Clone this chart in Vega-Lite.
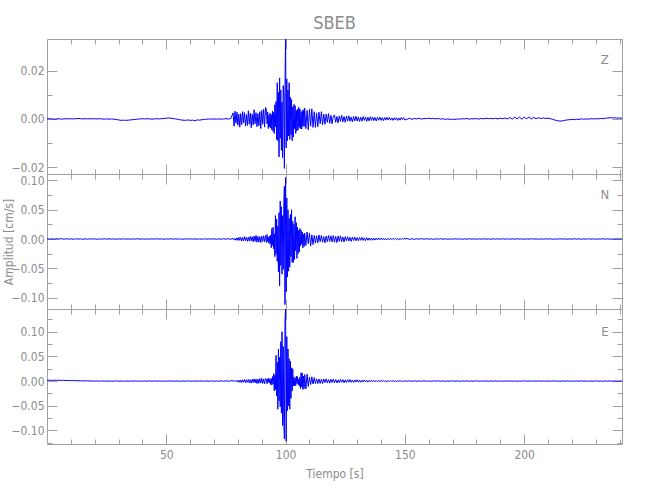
{
"$schema":"https://vega.github.io/schema/vega-lite/v6.json",
"background":"white",
"padding":{"left":2,"top":14,"right":5,"bottom":5},
"config":{
 "view":{"stroke":null},
 "axis":{"grid":false,"domainColor":"#a0a0a0","tickColor":"#a0a0a0","labelColor":"#8c8c8c","labelFont":"Liberation Sans Narrow, DejaVu Sans Condensed, sans-serif","labelFontSize":12,"titleFont":"Liberation Sans Narrow, DejaVu Sans Condensed, sans-serif","titleFontSize":12,"titleFontWeight":"normal","titleColor":"#8c8c8c","domainWidth":1,"tickWidth":1,"labelOverlap":false,"labelFlush":false}
},
"datasets":{"w":[
{"t":0,"z":0.0000,"n":0.0004,"e":0.0014},{"t":1,"z":0.0001,"n":-0.0003,"e":0.0018},{"t":2,"z":0.0000,"n":0.0005,"e":0.0013},{"t":3,"z":-0.0001,"n":-0.0004,"e":0.0019},{"t":4,"z":0.0000,"n":0.0006,"e":0.0015},{"t":5,"z":0.0001,"n":-0.0002,"e":0.0017},{"t":6,"z":-0.0001,"n":0.0007,"e":0.0012},{"t":7,"z":0.0000,"n":-0.0005,"e":0.0016},{"t":8,"z":0.0001,"n":0.0006,"e":0.0010},{"t":9,"z":0.0000,"n":-0.0004,"e":0.0013},
{"t":10,"z":0.0001,"n":0.0003,"e":0.0008},{"t":11,"z":0.0000,"n":-0.0005,"e":0.0011},{"t":12,"z":0.0001,"n":0.0004,"e":0.0006},{"t":13,"z":0.0002,"n":-0.0002,"e":0.0009},{"t":14,"z":0.0001,"n":0.0003,"e":0.0004},{"t":15,"z":0.0000,"n":-0.0004,"e":0.0007},{"t":16,"z":0.0001,"n":0.0002,"e":0.0002},{"t":17,"z":0.0000,"n":-0.0003,"e":0.0005},{"t":18,"z":0.0001,"n":0.0004,"e":0.0000},{"t":19,"z":0.0000,"n":-0.0002,"e":0.0004},
{"t":20,"z":0.0001,"n":0.0003,"e":-0.0002},{"t":21,"z":0.0000,"n":-0.0004,"e":0.0003},{"t":22,"z":0.0001,"n":0.0002,"e":-0.0003},{"t":23,"z":0.0000,"n":-0.0003,"e":0.0004},{"t":24,"z":-0.0001,"n":0.0004,"e":-0.0002},{"t":25,"z":0.0000,"n":-0.0002,"e":0.0003},{"t":26,"z":-0.0001,"n":0.0003,"e":-0.0004},{"t":27,"z":0.0000,"n":-0.0003,"e":0.0002},{"t":28,"z":-0.0001,"n":0.0002,"e":-0.0003},{"t":29,"z":-0.0002,"n":-0.0004,"e":0.0004},
{"t":30,"z":-0.0004,"n":0.0003,"e":-0.0002},{"t":31,"z":-0.0006,"n":-0.0002,"e":0.0003},{"t":32,"z":-0.0005,"n":0.0004,"e":-0.0004},{"t":33,"z":-0.0006,"n":-0.0003,"e":0.0002},{"t":34,"z":-0.0005,"n":0.0002,"e":-0.0003},{"t":35,"z":-0.0004,"n":-0.0003,"e":0.0003},{"t":36,"z":-0.0003,"n":0.0003,"e":-0.0002},{"t":37,"z":-0.0002,"n":-0.0002,"e":0.0004},{"t":38,"z":-0.0001,"n":0.0004,"e":-0.0003},{"t":39,"z":0.0000,"n":-0.0003,"e":0.0002},
{"t":40,"z":0.0001,"n":0.0002,"e":-0.0004},{"t":41,"z":0.0000,"n":-0.0004,"e":0.0003},{"t":42,"z":0.0001,"n":0.0003,"e":-0.0002},{"t":43,"z":0.0000,"n":-0.0002,"e":0.0003},{"t":44,"z":-0.0001,"n":0.0003,"e":-0.0003},{"t":45,"z":0.0000,"n":-0.0003,"e":0.0004},{"t":46,"z":0.0001,"n":0.0004,"e":-0.0002},{"t":47,"z":0.0000,"n":-0.0002,"e":0.0003},{"t":48,"z":0.0001,"n":0.0003,"e":-0.0004},{"t":49,"z":0.0002,"n":-0.0004,"e":0.0002},
{"t":50,"z":0.0003,"n":0.0002,"e":-0.0003},{"t":51,"z":0.0004,"n":-0.0003,"e":0.0004},{"t":52,"z":0.0003,"n":0.0004,"e":-0.0002},{"t":53,"z":0.0001,"n":-0.0002,"e":0.0003},{"t":54,"z":0.0000,"n":0.0003,"e":-0.0003},{"t":55,"z":-0.0002,"n":-0.0003,"e":0.0002},{"t":56,"z":-0.0004,"n":0.0002,"e":-0.0004},{"t":57,"z":-0.0005,"n":-0.0004,"e":0.0003},{"t":58,"z":-0.0006,"n":0.0003,"e":-0.0002},{"t":59,"z":-0.0004,"n":-0.0002,"e":0.0004},
{"t":60,"z":-0.0006,"n":0.0004,"e":-0.0003},{"t":61,"z":-0.0005,"n":-0.0003,"e":0.0002},{"t":62,"z":-0.0007,"n":0.0002,"e":-0.0003},{"t":63,"z":-0.0004,"n":-0.0003,"e":0.0004},{"t":64,"z":-0.0005,"n":0.0003,"e":-0.0002},{"t":65,"z":-0.0003,"n":-0.0004,"e":0.0003},{"t":66,"z":-0.0002,"n":0.0004,"e":-0.0004},{"t":67,"z":-0.0001,"n":-0.0002,"e":0.0002},{"t":68,"z":0.0000,"n":0.0003,"e":-0.0003},{"t":69,"z":-0.0001,"n":-0.0003,"e":0.0004},
{"t":70,"z":0.0000,"n":0.0004,"e":-0.0005},{"t":71,"z":-0.0001,"n":-0.0005,"e":0.0004},{"t":72,"z":0.0000,"n":0.0003,"e":-0.0003},{"t":73,"z":-0.0001,"n":-0.0004,"e":0.0005},{"t":74,"z":0.0000,"n":0.0005,"e":-0.0004},{"t":75,"z":0.0001,"n":-0.0003,"e":0.0006},{"t":76,"z":0.0000,"n":0.0006,"e":-0.0005},{"t":77,"z":0.0001,"n":-0.0005,"e":0.0007},
{"t":78.0,"z":0.0025,"n":0.0010,"e":0.0008},{"t":78.4,"z":-0.0030,"n":-0.0015,"e":-0.0010},{"t":78.8,"z":0.0032,"n":0.0012,"e":0.0012},{"t":79.2,"z":-0.0018,"n":-0.0020,"e":-0.0009},{"t":79.6,"z":0.0028,"n":0.0018,"e":0.0015},{"t":80.0,"z":-0.0026,"n":-0.0025,"e":-0.0020},{"t":80.4,"z":0.0020,"n":0.0030,"e":0.0018},{"t":80.8,"z":-0.0034,"n":-0.0022,"e":-0.0025},{"t":81.2,"z":0.0022,"n":0.0028,"e":0.0020},{"t":81.6,"z":-0.0024,"n":-0.0035,"e":-0.0030},
{"t":82.0,"z":0.0030,"n":0.0025,"e":0.0026},{"t":82.4,"z":-0.0016,"n":-0.0030,"e":-0.0022},{"t":82.8,"z":0.0026,"n":0.0040,"e":0.0030},{"t":83.2,"z":-0.0030,"n":-0.0028,"e":-0.0035},{"t":83.6,"z":0.0018,"n":0.0032,"e":0.0028},{"t":84.0,"z":-0.0027,"n":-0.0040,"e":-0.0024},{"t":84.4,"z":0.0034,"n":0.0030,"e":0.0032},{"t":84.8,"z":-0.0022,"n":-0.0035,"e":-0.0038},{"t":85.2,"z":0.0024,"n":0.0045,"e":0.0030},{"t":85.6,"z":-0.0036,"n":-0.0030,"e":-0.0042},
{"t":86.0,"z":0.0020,"n":0.0038,"e":0.0035},{"t":86.4,"z":-0.0025,"n":-0.0045,"e":-0.0030},{"t":86.8,"z":0.0038,"n":0.0050,"e":0.0045},{"t":87.2,"z":-0.0020,"n":-0.0040,"e":-0.0036},{"t":87.6,"z":0.0026,"n":0.0062,"e":0.0040},{"t":88.0,"z":-0.0032,"n":-0.0055,"e":-0.0050},{"t":88.4,"z":0.0022,"n":0.0045,"e":0.0038},{"t":88.8,"z":-0.0028,"n":-0.0050,"e":-0.0045},{"t":89.2,"z":0.0030,"n":0.0040,"e":0.0050},{"t":89.6,"z":-0.0040,"n":-0.0060,"e":-0.0040},
{"t":90.0,"z":0.0035,"n":0.0048,"e":0.0055},{"t":90.4,"z":-0.0022,"n":-0.0042,"e":-0.0048},{"t":90.8,"z":0.0040,"n":0.0055,"e":0.0042},{"t":91.2,"z":-0.0034,"n":-0.0048,"e":-0.0055},{"t":91.6,"z":0.0048,"n":0.0060,"e":0.0050},
{"t":92.00,"z":0.0036,"n":-0.0060,"e":0.0030},{"t":92.25,"z":-0.0020,"n":0.0078,"e":-0.0055},{"t":92.50,"z":0.0028,"n":-0.0040,"e":0.0048},{"t":92.75,"z":-0.0040,"n":0.0030,"e":-0.0025},{"t":93.00,"z":0.0016,"n":-0.0072,"e":0.0060},{"t":93.25,"z":-0.0032,"n":0.0050,"e":-0.0040},{"t":93.50,"z":0.0024,"n":-0.0080,"e":0.0035},{"t":93.75,"z":-0.0038,"n":0.0065,"e":-0.0070},
{"t":94.00,"z":0.0018,"n":-0.0150,"e":0.0050},{"t":94.25,"z":-0.0045,"n":0.0180,"e":-0.0080},{"t":94.50,"z":0.0033,"n":-0.0110,"e":0.0090},{"t":94.75,"z":-0.0051,"n":0.0200,"e":-0.0060},{"t":95.00,"z":0.0027,"n":-0.0170,"e":0.0150},{"t":95.25,"z":-0.0060,"n":0.0090,"e":-0.0200},{"t":95.50,"z":0.0059,"n":-0.0300,"e":0.0120},{"t":95.75,"z":-0.0032,"n":0.0400,"e":-0.0170},
{"t":96.00,"z":0.0072,"n":-0.0260,"e":0.0520},{"t":96.25,"z":-0.0085,"n":0.0340,"e":-0.0300},{"t":96.50,"z":0.0150,"n":-0.0380,"e":0.0380},{"t":96.75,"z":-0.0090,"n":0.0220,"e":-0.0570},{"t":97.00,"z":0.0110,"n":-0.0560,"e":0.0650},{"t":97.25,"z":-0.0157,"n":0.0450,"e":-0.0400},{"t":97.50,"z":0.0170,"n":-0.0800,"e":0.0480},{"t":97.75,"z":-0.0080,"n":0.0650,"e":-0.0520},
{"t":98.00,"z":0.0120,"n":-0.0450,"e":0.0800},{"t":98.25,"z":-0.0130,"n":0.0550,"e":-0.0650},{"t":98.50,"z":0.0070,"n":-0.0600,"e":0.1000},{"t":98.75,"z":-0.0160,"n":0.0400,"e":-0.0900},{"t":99.00,"z":0.0138,"n":-0.0520,"e":0.0700},{"t":99.25,"z":0.0100,"n":0.0600,"e":-0.0800},{"t":99.50,"z":-0.0205,"n":0.0900,"e":-0.1170},{"t":99.75,"z":0.0140,"n":-0.1120,"e":0.1200},
{"t":100.00,"z":0.0340,"n":0.1050,"e":0.1500},{"t":100.25,"z":-0.0120,"n":-0.0900,"e":-0.1220},{"t":100.50,"z":0.0166,"n":0.0700,"e":0.0900},{"t":100.75,"z":-0.0090,"n":-0.0650,"e":-0.0600},{"t":101.00,"z":0.0120,"n":0.0500,"e":0.0650},{"t":101.25,"z":-0.0070,"n":-0.0550,"e":-0.0500},{"t":101.50,"z":0.0150,"n":0.0350,"e":0.0450},{"t":101.75,"z":-0.0085,"n":-0.0480,"e":-0.0570},
{"t":102.00,"z":0.0090,"n":0.0420,"e":0.0400},{"t":102.25,"z":-0.0065,"n":-0.0300,"e":-0.0350},{"t":102.50,"z":0.0080,"n":0.0500,"e":0.0270},{"t":102.75,"z":-0.0090,"n":-0.0400,"e":-0.0200},{"t":103.00,"z":0.0050,"n":0.0300,"e":0.0250},{"t":103.25,"z":-0.0075,"n":-0.0400,"e":-0.0100},{"t":103.50,"z":0.0060,"n":0.0250,"e":0.0080},{"t":103.75,"z":-0.0040,"n":-0.0350,"e":-0.0100},
{"t":104.00,"z":0.0055,"n":0.0380,"e":0.0060},{"t":104.25,"z":-0.0060,"n":-0.0200,"e":-0.0090},{"t":104.50,"z":0.0035,"n":0.0280,"e":0.0100},{"t":104.75,"z":-0.0050,"n":-0.0330,"e":-0.0050},{"t":105.00,"z":0.0040,"n":0.0200,"e":0.0090},{"t":105.25,"z":-0.0045,"n":-0.0250,"e":-0.0070},{"t":105.50,"z":0.0048,"n":0.0150,"e":0.0040},{"t":105.75,"z":-0.0035,"n":-0.0220,"e":-0.0100},
{"t":106.00,"z":0.0042,"n":0.0180,"e":0.0080},{"t":106.25,"z":-0.0040,"n":-0.0120,"e":-0.0150},{"t":106.50,"z":0.0030,"n":0.0150,"e":0.0170},{"t":106.75,"z":-0.0042,"n":-0.0090,"e":-0.0120},{"t":107.00,"z":0.0035,"n":0.0120,"e":0.0160},{"t":107.25,"z":-0.0030,"n":-0.0150,"e":-0.0170},{"t":107.50,"z":0.0038,"n":0.0080,"e":0.0100},{"t":107.75,"z":-0.0032,"n":-0.0130,"e":-0.0150},{"t":108.00,"z":0.0045,"n":0.0100,"e":0.0130},
{"t":108.5,"z":-0.0040,"n":-0.0110,"e":-0.0160},{"t":109.0,"z":0.0035,"n":0.0120,"e":0.0140},{"t":109.5,"z":-0.0045,"n":-0.0080,"e":-0.0110},{"t":110.0,"z":0.0040,"n":0.0100,"e":0.0080},{"t":110.5,"z":-0.0030,"n":-0.0120,"e":-0.0070},{"t":111.0,"z":0.0042,"n":0.0070,"e":0.0085},{"t":111.5,"z":-0.0035,"n":-0.0095,"e":-0.0060},{"t":112.0,"z":0.0030,"n":0.0060,"e":0.0070},
{"t":112.5,"z":-0.0035,"n":-0.0070,"e":-0.0050},{"t":113.0,"z":0.0025,"n":0.0055,"e":0.0045},{"t":113.5,"z":-0.0032,"n":-0.0065,"e":-0.0052},{"t":114.0,"z":0.0028,"n":0.0070,"e":0.0040},{"t":114.5,"z":-0.0020,"n":-0.0045,"e":-0.0048},{"t":115.0,"z":0.0030,"n":0.0060,"e":0.0035},{"t":115.5,"z":-0.0024,"n":-0.0055,"e":-0.0050},{"t":116.0,"z":0.0020,"n":0.0040,"e":0.0042},
{"t":116.5,"z":-0.0022,"n":-0.0065,"e":-0.0030},{"t":117.0,"z":0.0020,"n":0.0050,"e":0.0045},{"t":117.5,"z":-0.0014,"n":-0.0045,"e":-0.0038},{"t":118.0,"z":0.0022,"n":0.0060,"e":0.0030},{"t":118.5,"z":-0.0018,"n":-0.0040,"e":-0.0042},{"t":119.0,"z":0.0015,"n":0.0055,"e":0.0035},{"t":119.5,"z":-0.0020,"n":-0.0050,"e":-0.0028},{"t":120.0,"z":0.0012,"n":0.0060,"e":0.0040},
{"t":120.5,"z":0.0016,"n":-0.0055,"e":-0.0035},{"t":121.0,"z":-0.0014,"n":0.0045,"e":0.0030},{"t":121.5,"z":0.0010,"n":-0.0060,"e":-0.0038},{"t":122.0,"z":-0.0016,"n":0.0050,"e":0.0025},{"t":122.5,"z":0.0012,"n":-0.0040,"e":-0.0032},{"t":123.0,"z":-0.0010,"n":0.0055,"e":0.0036},{"t":123.5,"z":0.0015,"n":-0.0045,"e":-0.0025},{"t":124.0,"z":-0.0012,"n":0.0035,"e":0.0030},
{"t":124.5,"z":0.0010,"n":-0.0050,"e":-0.0035},{"t":125.0,"z":-0.0014,"n":0.0040,"e":0.0022},{"t":125.5,"z":0.0012,"n":-0.0030,"e":-0.0030},{"t":126.0,"z":-0.0009,"n":0.0040,"e":0.0028},{"t":126.5,"z":0.0013,"n":-0.0035,"e":-0.0022},{"t":127.0,"z":-0.0010,"n":0.0028,"e":0.0030},{"t":127.5,"z":0.0008,"n":-0.0040,"e":-0.0025},{"t":128.0,"z":-0.0012,"n":0.0032,"e":0.0020},
{"t":128.5,"z":0.0010,"n":-0.0025,"e":-0.0028},{"t":129.0,"z":-0.0008,"n":0.0035,"e":0.0024},{"t":129.5,"z":0.0011,"n":-0.0030,"e":-0.0020},{"t":130.0,"z":-0.0009,"n":0.0025,"e":0.0026},{"t":130.5,"z":0.0008,"n":-0.0032,"e":-0.0022},{"t":131.0,"z":-0.0010,"n":0.0026,"e":0.0018},{"t":131.5,"z":0.0007,"n":-0.0022,"e":-0.0024},{"t":132.0,"z":-0.0009,"n":0.0030,"e":0.0020},
{"t":132.5,"z":0.0010,"n":-0.0025,"e":-0.0016},{"t":133.0,"z":-0.0006,"n":0.0020,"e":0.0022},{"t":133.5,"z":0.0008,"n":-0.0028,"e":-0.0018},{"t":134.0,"z":-0.0010,"n":0.0022,"e":0.0015},{"t":134.5,"z":0.0007,"n":-0.0020,"e":-0.0020},{"t":135.0,"z":-0.0008,"n":0.0018,"e":0.0016},{"t":135.5,"z":0.0009,"n":-0.0022,"e":-0.0014},{"t":136.0,"z":-0.0006,"n":0.0016,"e":0.0018},
{"t":136.5,"z":0.0008,"n":-0.0020,"e":-0.0012},{"t":137.0,"z":-0.0007,"n":0.0015,"e":0.0016},{"t":137.5,"z":0.0006,"n":-0.0018,"e":-0.0013},{"t":138.0,"z":-0.0008,"n":0.0014,"e":0.0011},{"t":138.5,"z":0.0007,"n":-0.0016,"e":-0.0015},{"t":139.0,"z":-0.0005,"n":0.0018,"e":0.0012},{"t":139.5,"z":0.0008,"n":-0.0012,"e":-0.0010},{"t":140.0,"z":-0.0006,"n":0.0015,"e":0.0013},
{"t":140.5,"z":0.0005,"n":-0.0014,"e":-0.0009},{"t":141.0,"z":-0.0007,"n":0.0012,"e":0.0011},{"t":141.5,"z":0.0006,"n":-0.0015,"e":-0.0010},{"t":142.0,"z":-0.0005,"n":0.0011,"e":0.0008},{"t":142.5,"z":0.0007,"n":-0.0013,"e":-0.0011},{"t":143.0,"z":-0.0004,"n":0.0010,"e":0.0009},{"t":143.5,"z":0.0006,"n":-0.0012,"e":-0.0008},{"t":144.0,"z":-0.0005,"n":0.0014,"e":0.0010},
{"t":144.5,"z":0.0004,"n":-0.0010,"e":-0.0007},{"t":145.0,"z":-0.0006,"n":0.0011,"e":0.0009},{"t":145.5,"z":0.0005,"n":-0.0009,"e":-0.0008},{"t":146.0,"z":-0.0004,"n":0.0012,"e":0.0006},{"t":146.5,"z":0.0005,"n":-0.0010,"e":-0.0009},{"t":147.0,"z":-0.0006,"n":0.0008,"e":0.0007},{"t":147.5,"z":0.0004,"n":-0.0011,"e":-0.0006},{"t":148.0,"z":-0.0005,"n":0.0009,"e":0.0008},
{"t":148.5,"z":0.0006,"n":-0.0008,"e":-0.0007},{"t":149.0,"z":-0.0003,"n":0.0010,"e":0.0005},{"t":149.5,"z":0.0005,"n":-0.0007,"e":-0.0006},{"t":150.0,"z":-0.0004,"n":0.0008,"e":0.0006},
{"t":151,"z":-0.0001,"n":0.0006,"e":-0.0005},{"t":152,"z":0.0003,"n":-0.0005,"e":0.0006},{"t":153,"z":-0.0002,"n":0.0004,"e":-0.0004},{"t":154,"z":0.0002,"n":-0.0006,"e":0.0005},{"t":155,"z":0.0000,"n":0.0005,"e":-0.0006},{"t":156,"z":0.0003,"n":-0.0004,"e":0.0004},{"t":157,"z":-0.0001,"n":0.0006,"e":-0.0003},{"t":158,"z":0.0002,"n":-0.0003,"e":0.0005},{"t":159,"z":0.0001,"n":0.0005,"e":-0.0004},{"t":160,"z":0.0003,"n":-0.0004,"e":0.0003},
{"t":161,"z":0.0001,"n":0.0003,"e":-0.0005},{"t":162,"z":0.0002,"n":-0.0005,"e":0.0004},{"t":163,"z":0.0000,"n":0.0004,"e":-0.0003},{"t":164,"z":0.0002,"n":-0.0003,"e":0.0005},{"t":165,"z":-0.0001,"n":0.0005,"e":-0.0004},{"t":166,"z":0.0001,"n":-0.0004,"e":0.0003},{"t":167,"z":-0.0002,"n":0.0003,"e":-0.0004},{"t":168,"z":0.0000,"n":-0.0004,"e":0.0002},{"t":169,"z":-0.0002,"n":0.0002,"e":-0.0003},{"t":170,"z":-0.0001,"n":-0.0003,"e":0.0004},
{"t":171,"z":-0.0002,"n":0.0004,"e":-0.0002},{"t":172,"z":0.0000,"n":-0.0002,"e":0.0003},{"t":173,"z":-0.0001,"n":0.0003,"e":-0.0004},{"t":174,"z":0.0001,"n":-0.0004,"e":0.0002},{"t":175,"z":0.0000,"n":0.0002,"e":-0.0003},{"t":176,"z":0.0002,"n":-0.0003,"e":0.0004},{"t":177,"z":-0.0001,"n":0.0004,"e":-0.0003},{"t":178,"z":0.0001,"n":-0.0002,"e":0.0002},{"t":179,"z":0.0000,"n":0.0003,"e":-0.0003},{"t":180,"z":0.0002,"n":-0.0004,"e":0.0004},
{"t":181,"z":-0.0001,"n":0.0003,"e":-0.0002},{"t":182,"z":0.0002,"n":-0.0002,"e":0.0003},{"t":183,"z":0.0000,"n":0.0004,"e":-0.0003},{"t":184,"z":0.0003,"n":-0.0003,"e":0.0002},{"t":185,"z":0.0001,"n":0.0002,"e":-0.0004},{"t":186,"z":0.0002,"n":-0.0004,"e":0.0003},{"t":187,"z":0.0001,"n":0.0003,"e":-0.0002},{"t":188,"z":0.0003,"n":-0.0002,"e":0.0004},{"t":189,"z":0.0000,"n":0.0003,"e":-0.0003},{"t":190,"z":0.0003,"n":-0.0003,"e":0.0002},
{"t":191,"z":0.0001,"n":0.0004,"e":-0.0004},{"t":192,"z":0.0004,"n":-0.0002,"e":0.0003},{"t":193,"z":0.0000,"n":0.0003,"e":-0.0002},{"t":194,"z":0.0006,"n":-0.0004,"e":0.0004},{"t":195,"z":-0.0001,"n":0.0002,"e":-0.0003},{"t":196,"z":0.0007,"n":-0.0003,"e":0.0002},{"t":197,"z":0.0000,"n":0.0004,"e":-0.0004},{"t":198,"z":0.0008,"n":-0.0002,"e":0.0003},{"t":199,"z":-0.0001,"n":0.0003,"e":-0.0002},{"t":200,"z":0.0007,"n":-0.0004,"e":0.0004},
{"t":201,"z":0.0001,"n":0.0002,"e":-0.0003},{"t":202,"z":0.0008,"n":-0.0003,"e":0.0002},{"t":203,"z":0.0000,"n":0.0004,"e":-0.0004},{"t":204,"z":0.0006,"n":-0.0002,"e":0.0003},{"t":205,"z":0.0001,"n":0.0003,"e":-0.0002},{"t":206,"z":0.0005,"n":-0.0004,"e":0.0004},{"t":207,"z":0.0002,"n":0.0002,"e":-0.0003},{"t":208,"z":0.0004,"n":-0.0003,"e":0.0002},{"t":209,"z":0.0002,"n":0.0004,"e":-0.0004},{"t":210,"z":0.0003,"n":-0.0002,"e":0.0003},
{"t":211,"z":0.0001,"n":0.0003,"e":-0.0002},{"t":212,"z":-0.0002,"n":-0.0004,"e":0.0004},{"t":213,"z":-0.0005,"n":0.0002,"e":-0.0003},{"t":214,"z":-0.0007,"n":-0.0003,"e":0.0002},{"t":215,"z":-0.0009,"n":0.0004,"e":-0.0004},{"t":216,"z":-0.0008,"n":-0.0002,"e":0.0003},{"t":217,"z":-0.0006,"n":0.0003,"e":-0.0002},{"t":218,"z":-0.0004,"n":-0.0004,"e":0.0004},{"t":219,"z":-0.0003,"n":0.0002,"e":-0.0003},{"t":220,"z":-0.0002,"n":-0.0003,"e":0.0002},
{"t":221,"z":-0.0003,"n":0.0004,"e":-0.0004},{"t":222,"z":-0.0001,"n":-0.0002,"e":0.0003},{"t":223,"z":-0.0002,"n":0.0003,"e":-0.0002},{"t":224,"z":0.0000,"n":-0.0004,"e":0.0004},{"t":225,"z":-0.0001,"n":0.0002,"e":-0.0003},{"t":226,"z":0.0000,"n":-0.0003,"e":0.0002},{"t":227,"z":-0.0001,"n":0.0004,"e":-0.0004},{"t":228,"z":0.0001,"n":-0.0002,"e":0.0003},{"t":229,"z":0.0000,"n":0.0003,"e":-0.0002},{"t":230,"z":0.0001,"n":-0.0004,"e":0.0004},
{"t":231,"z":0.0000,"n":0.0002,"e":-0.0003},{"t":232,"z":0.0002,"n":-0.0003,"e":0.0002},{"t":233,"z":0.0001,"n":0.0004,"e":-0.0004},{"t":234,"z":0.0003,"n":-0.0002,"e":0.0003},{"t":235,"z":0.0004,"n":0.0003,"e":-0.0002},{"t":236,"z":0.0005,"n":-0.0004,"e":0.0004},{"t":237,"z":0.0004,"n":0.0002,"e":-0.0003},{"t":238,"z":0.0005,"n":-0.0003,"e":0.0002},{"t":239,"z":0.0003,"n":0.0004,"e":-0.0004},{"t":240,"z":0.0004,"n":-0.0002,"e":0.0003},{"t":241,"z":0.0003,"n":0.0003,"e":-0.0002}
]},
"spacing":0,
"bounds":"flush",
"vconcat":[
{
 "width":575,"height":135,
 "title":{"text":"SBEB","fontSize":18,"color":"#8c8c8c","font":"Liberation Sans Narrow, DejaVu Sans Condensed, sans-serif","fontWeight":"normal","anchor":"middle","offset":-8,"baseline":"alphabetic"},
 "resolve":{"axis":{"x":"independent","y":"independent"}},
 "layer":[
  {"data":{"name":"w"},"mark":{"type":"line","color":"#0000ff","strokeWidth":1,"clip":true},
   "encoding":{
    "x":{"field":"t","type":"quantitative","scale":{"domain":[0,241],"nice":false,"zero":false},"axis":{"orient":"bottom","values":[50,100,150,200],"tickSize":-10,"labels":false,"title":null}},
    "y":{"field":"z","type":"quantitative","scale":{"domain":[-0.0228,0.0331],"nice":false,"zero":false},"axis":{"orient":"left","values":[-0.02,0,0.02],"format":".2f","tickSize":-10,"labelPadding":13,"title":null}}}},
  {"data":{"values":[{}]},"mark":{"type":"text","text":"Z","fontSize":13,"color":"#8c8c8c","font":"Liberation Sans Narrow, DejaVu Sans Condensed, sans-serif","align":"center","baseline":"middle"},
   "encoding":{
    "x":{"datum":233.8,"type":"quantitative","axis":{"orient":"bottom","values":[10,20,30,40,60,70,80,90,110,120,130,140,160,170,180,190,210,220,230,240],"tickSize":-5,"labels":false,"domain":false,"title":null}},
    "y":{"datum":0.0244,"type":"quantitative","axis":{"orient":"left","values":[-0.01,0.01],"tickSize":-5,"labels":false,"domain":false,"title":null}}}},
  {"data":{"values":[{}]},"mark":{"type":"point","opacity":0},
   "encoding":{
    "x":{"datum":120,"type":"quantitative","axis":{"orient":"top","values":[50,100,150,200],"tickSize":-10,"labels":false,"title":null}},
    "y":{"datum":0,"type":"quantitative","axis":{"orient":"right","values":[-0.02,0,0.02],"tickSize":-10,"labels":false,"title":null}}}},
  {"data":{"values":[{}]},"mark":{"type":"point","opacity":0},
   "encoding":{
    "x":{"datum":120,"type":"quantitative","axis":{"orient":"top","values":[10,20,30,40,60,70,80,90,110,120,130,140,160,170,180,190,210,220,230,240],"tickSize":-5,"labels":false,"domain":false,"title":null}},
    "y":{"datum":0,"type":"quantitative","axis":{"orient":"right","values":[-0.01,0.01],"tickSize":-5,"labels":false,"domain":false,"title":null}}}}
 ]
},
{
 "width":575,"height":135,
 "resolve":{"axis":{"x":"independent","y":"independent"}},
 "layer":[
  {"data":{"name":"w"},"mark":{"type":"line","color":"#0000ff","strokeWidth":1,"clip":true},
   "encoding":{
    "x":{"field":"t","type":"quantitative","scale":{"domain":[0,241],"nice":false,"zero":false},"axis":{"orient":"bottom","values":[50,100,150,200],"tickSize":-10,"labels":false,"title":null}},
    "y":{"field":"n","type":"quantitative","scale":{"domain":[-0.1195,0.111],"nice":false,"zero":false},"axis":{"orient":"left","values":[-0.1,-0.05,0,0.05,0.1],"format":".2f","tickSize":-10,"labelPadding":13,"title":"Amplitud [cm/s]","titleX":-35,"titleY":67.5,"titleAngle":270,"titleAlign":"center","titleBaseline":"alphabetic"}}}},
  {"data":{"values":[{}]},"mark":{"type":"text","text":"N","fontSize":13,"color":"#8c8c8c","font":"Liberation Sans Narrow, DejaVu Sans Condensed, sans-serif","align":"center","baseline":"middle"},
   "encoding":{
    "x":{"datum":233.8,"type":"quantitative","axis":{"orient":"bottom","values":[10,20,30,40,60,70,80,90,110,120,130,140,160,170,180,190,210,220,230,240],"tickSize":-5,"labels":false,"domain":false,"title":null}},
    "y":{"datum":0.075,"type":"quantitative","axis":{"orient":"left","values":[-0.075,-0.025,0.025,0.075],"tickSize":-5,"labels":false,"domain":false,"title":null}}}},
  {"data":{"values":[{}]},"mark":{"type":"point","opacity":0},
   "encoding":{
    "x":{"datum":120,"type":"quantitative","axis":{"orient":"top","values":[50,100,150,200],"tickSize":-10,"labels":false,"title":null}},
    "y":{"datum":0,"type":"quantitative","axis":{"orient":"right","values":[-0.1,-0.05,0,0.05,0.1],"tickSize":-10,"labels":false,"title":null}}}},
  {"data":{"values":[{}]},"mark":{"type":"point","opacity":0},
   "encoding":{
    "x":{"datum":120,"type":"quantitative","axis":{"orient":"top","values":[10,20,30,40,60,70,80,90,110,120,130,140,160,170,180,190,210,220,230,240],"tickSize":-5,"labels":false,"domain":false,"title":null}},
    "y":{"datum":0,"type":"quantitative","axis":{"orient":"right","values":[-0.075,-0.025,0.025,0.075],"tickSize":-5,"labels":false,"domain":false,"title":null}}}}
 ]
},
{
 "width":575,"height":135,
 "resolve":{"axis":{"x":"independent","y":"independent"}},
 "layer":[
  {"data":{"name":"w"},"mark":{"type":"line","color":"#0000ff","strokeWidth":1,"clip":true},
   "encoding":{
    "x":{"field":"t","type":"quantitative","scale":{"domain":[0,241],"nice":false,"zero":false},"axis":{"orient":"bottom","values":[50,100,150,200],"tickSize":-10,"labelPadding":15,"title":"Tiempo [s]","titleX":287.5,"titleY":33,"titleAlign":"center","titleBaseline":"alphabetic"}},
    "y":{"field":"e","type":"quantitative","scale":{"domain":[-0.1275,0.146],"nice":false,"zero":false},"axis":{"orient":"left","values":[-0.1,-0.05,0,0.05,0.1],"format":".2f","tickSize":-10,"labelPadding":13,"title":null}}}},
  {"data":{"values":[{}]},"mark":{"type":"text","text":"E","fontSize":13,"color":"#8c8c8c","font":"Liberation Sans Narrow, DejaVu Sans Condensed, sans-serif","align":"center","baseline":"middle"},
   "encoding":{
    "x":{"datum":233.8,"type":"quantitative","axis":{"orient":"bottom","values":[10,20,30,40,60,70,80,90,110,120,130,140,160,170,180,190,210,220,230,240],"tickSize":-5,"labels":false,"domain":false,"title":null}},
    "y":{"datum":0.0992,"type":"quantitative","axis":{"orient":"left","values":[-0.125,-0.075,-0.025,0.025,0.075,0.125],"tickSize":-5,"labels":false,"domain":false,"title":null}}}},
  {"data":{"values":[{}]},"mark":{"type":"point","opacity":0},
   "encoding":{
    "x":{"datum":120,"type":"quantitative","axis":{"orient":"top","values":[50,100,150,200],"tickSize":-10,"labels":false,"title":null}},
    "y":{"datum":0,"type":"quantitative","axis":{"orient":"right","values":[-0.1,-0.05,0,0.05,0.1],"tickSize":-10,"labels":false,"title":null}}}},
  {"data":{"values":[{}]},"mark":{"type":"point","opacity":0},
   "encoding":{
    "x":{"datum":120,"type":"quantitative","axis":{"orient":"top","values":[10,20,30,40,60,70,80,90,110,120,130,140,160,170,180,190,210,220,230,240],"tickSize":-5,"labels":false,"domain":false,"title":null}},
    "y":{"datum":0,"type":"quantitative","axis":{"orient":"right","values":[-0.125,-0.075,-0.025,0.025,0.075,0.125],"tickSize":-5,"labels":false,"domain":false,"title":null}}}}
 ]
}
]
}
